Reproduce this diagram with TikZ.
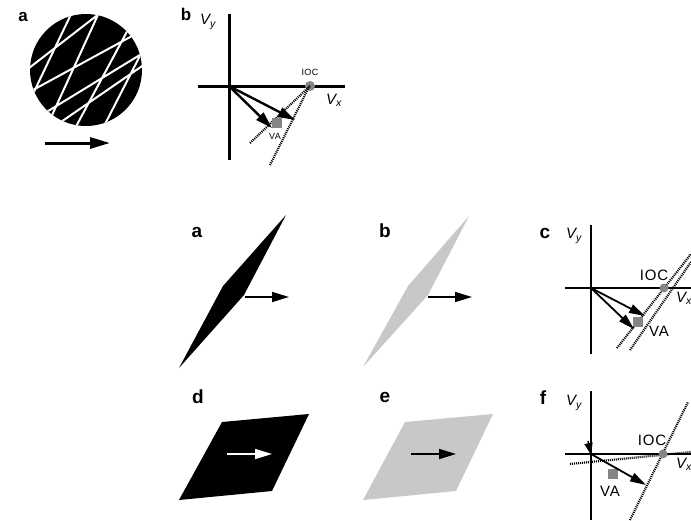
\documentclass[tikz,border=0pt]{standalone}
\usepackage{fontspec}
\setmainfont{Liberation Sans}
\usetikzlibrary{arrows.meta}
\definecolor{shapegray}{HTML}{C8C8C8}
\definecolor{dotgray}{HTML}{858585}
\begin{document}
\begin{tikzpicture}[x=1pt,y=-1pt,
  plabel/.style={font=\bfseries\fontsize{19}{19}\selectfont, inner sep=0pt},
  tlabel/.style={font=\bfseries\fontsize{17}{17}\selectfont, inner sep=0pt},
  axlabel/.style={font=\itshape\fontsize{15}{15}\selectfont, inner sep=0pt},
  smalltxt/.style={font=\fontsize{9}{9}\selectfont\addfontfeatures{LetterSpace=5}, inner sep=0pt},
  bigtxt/.style={font=\fontsize{15}{15}\selectfont\addfontfeatures{LetterSpace=6}, inner sep=0pt},
  thickaxis/.style={line width=3pt},
  thinaxis/.style={line width=1.2pt},
  vecbig/.style={line width=2.4pt, -{Triangle[length=17pt,width=10pt]}},
  vecmid/.style={line width=1.8pt, -{Triangle[length=16pt,width=9pt]}},
  motion/.style={line width=1.7pt, -{Triangle[length=17pt,width=10pt]}},
  dotline/.style={line width=2.2pt, dash pattern=on 1pt off 1pt, black},
  iocdot/.style={circle, fill=dotgray, minimum size=10pt, inner sep=0pt},
  iocdotsmall/.style={circle, fill=dotgray, minimum size=9pt, inner sep=0pt},
  vasq/.style={rectangle, fill=dotgray, minimum size=10pt, inner sep=0pt}
]
\useasboundingbox (0,0) rectangle (691,520);

% ---------------- top panel a ----------------
\node[tlabel] (ta) at (23,17) {a};
\fill (86,70) circle (56pt);
\begin{scope}
  \clip (86,70) circle (56pt);
  \draw[white, line width=2pt]
    (20,75) -- (104,10)
    (22,96) -- (143,30)
    (40,116) -- (148,50)
    (58,124) -- (148,62)
    (32,96) -- (74,8)
    (48,124) -- (102,6)
    (72,134) -- (130,26)
    (102,130) -- (146,44);
\end{scope}
\coordinate (tas) at (45,143);
\coordinate (tae) at (110,143);
\draw[line width=3pt, -{Triangle[length=20pt,width=11pt]}] (tas) -- (tae);

% ---------------- top panel b ----------------
\node[tlabel] (tb) at (186,14) {b};
\node[axlabel] (tvy) at (208,22) {V\textsubscript{\textit{y}}};
\coordinate (tbo) at (229,86);
\coordinate (tbt) at (229,14);
\coordinate (tbb) at (229,160);
\coordinate (tbl) at (198,86);
\coordinate (tbr) at (345,86);
\draw[thickaxis] (tbt) -- (tbb);
\draw[thickaxis] (tbl) -- (tbr);
\coordinate (tbd1a) at (250,143);
\coordinate (tbd2a) at (270,165);
\coordinate (tbd2b) at (309,87);
\node[iocdot] (tioc) at (310,86) {};
\draw[dotline] (tbd1a) -- (tioc.center);
\draw[dotline] (tbd2a) -- (tbd2b);
\node[vasq] (tva) at (277,123) {};
\coordinate (tv1) at (272,128);
\coordinate (tv2) at (295,120);
\draw[vecbig] (tbo) -- (tv1);
\draw[vecbig] (tbo) -- (tv2);
\node[smalltxt] (tiocl) at (310,72) {IOC};
\node[smalltxt] (tval) at (275,136) {VA};
\node[axlabel] (tvx) at (334,100) {V\textsubscript{\textit{x}}};

% ---------------- bottom a ----------------
\node[plabel] (la) at (197,232) {a};
\coordinate (a1) at (179,368);
\coordinate (a2) at (223,286);
\coordinate (a3) at (286,215);
\coordinate (a4) at (244,295);
\fill (a1) -- (a2) -- (a3) -- (a4) -- cycle;
\coordinate (aas) at (245,297);
\coordinate (aae) at (289,297);
\draw[motion] (aas) -- (aae);

% ---------------- bottom b ----------------
\node[plabel] (lb) at (385,231) {b};
\coordinate (b1) at (363,367);
\coordinate (b2) at (408,286);
\coordinate (b3) at (469,216);
\coordinate (b4) at (428,295);
\fill[shapegray] (b1) -- (b2) -- (b3) -- (b4) -- cycle;
\coordinate (bas) at (428,297);
\coordinate (bae) at (472,297);
\draw[motion] (bas) -- (bae);

% ---------------- bottom c ----------------
\node[plabel] (lc) at (545,233) {c};
\node[axlabel] (cvy) at (574,236) {V\textsubscript{\textit{y}}};
\coordinate (co) at (591,288);
\coordinate (ct) at (591,225);
\coordinate (cb) at (591,354);
\coordinate (cl) at (565,288);
\coordinate (cr) at (691,288);
\draw[thinaxis] (ct) -- (cb);
\draw[thinaxis] (cl) -- (cr);
\coordinate (cd1a) at (617,348);
\coordinate (cd1b) at (691,254);
\coordinate (cd2a) at (630,350);
\coordinate (cd2b) at (691,262);
\draw[dotline] (cd1a) -- (cd1b);
\draw[dotline] (cd2a) -- (cd2b);
\node[iocdotsmall] (cioc) at (664,288) {};
\node[vasq] (cva) at (638,322) {};
\coordinate (cv1) at (634,329);
\coordinate (cv2) at (645,316);
\draw[vecmid] (co) -- (cv1);
\draw[vecmid] (co) -- (cv2);
\node[bigtxt] (ciocl) at (654,275) {IOC};
\node[bigtxt] (cval) at (659,331) {VA};
\node[axlabel] (cvx) at (684,298) {V\textsubscript{\textit{x}}};

% ---------------- bottom d ----------------
\node[plabel] (ld) at (198,397) {d};
\coordinate (d1) at (179,500);
\coordinate (d2) at (222,422);
\coordinate (d3) at (309,414);
\coordinate (d4) at (272,491);
\fill (d1) -- (d2) -- (d3) -- (d4) -- cycle;
\coordinate (das) at (227,454);
\coordinate (dae) at (272,454);
\draw[motion, white] (das) -- (dae);

% ---------------- bottom e ----------------
\node[plabel] (le) at (385,397) {e};
\coordinate (e1) at (363,500);
\coordinate (e2) at (405,422);
\coordinate (e3) at (493,414);
\coordinate (e4) at (456,491);
\fill[shapegray] (e1) -- (e2) -- (e3) -- (e4) -- cycle;
\coordinate (eas) at (411,454);
\coordinate (eae) at (456,454);
\draw[motion] (eas) -- (eae);

% ---------------- bottom f ----------------
\node[plabel] (lf) at (543,398) {f};
\node[axlabel] (fvy) at (574,403) {V\textsubscript{\textit{y}}};
\coordinate (fo) at (591,454);
\coordinate (ft) at (591,391);
\coordinate (fb) at (591,520);
\coordinate (fl) at (565,454);
\coordinate (fr) at (691,454);
\draw[thinaxis] (ft) -- (fb);
\draw[thinaxis] (fl) -- (fr);
\coordinate (fd1a) at (570,464);
\coordinate (fd1b) at (691,452);
\coordinate (fd2a) at (630,520);
\coordinate (fd2b) at (688,402);
\draw[dotline] (fd1a) -- (fd1b);
\draw[dotline] (fd2a) -- (fd2b);
\node[iocdotsmall] (fioc) at (663,454) {};
\node[vasq] (fva) at (613,474) {};
\coordinate (fvs) at (588,441);
\coordinate (fvt) at (591,455);
\draw[line width=1.5pt, -{Triangle[length=12pt,width=8pt]}] (fvs) -- (fvt);
\coordinate (fv2) at (646,485);
\draw[vecmid] (fo) -- (fv2);
\node[bigtxt] (fiocl) at (652,440) {IOC};
\node[bigtxt] (fval) at (610,491) {VA};
\node[axlabel] (fvx) at (684,464) {V\textsubscript{\textit{x}}};
\end{tikzpicture}
\end{document}
